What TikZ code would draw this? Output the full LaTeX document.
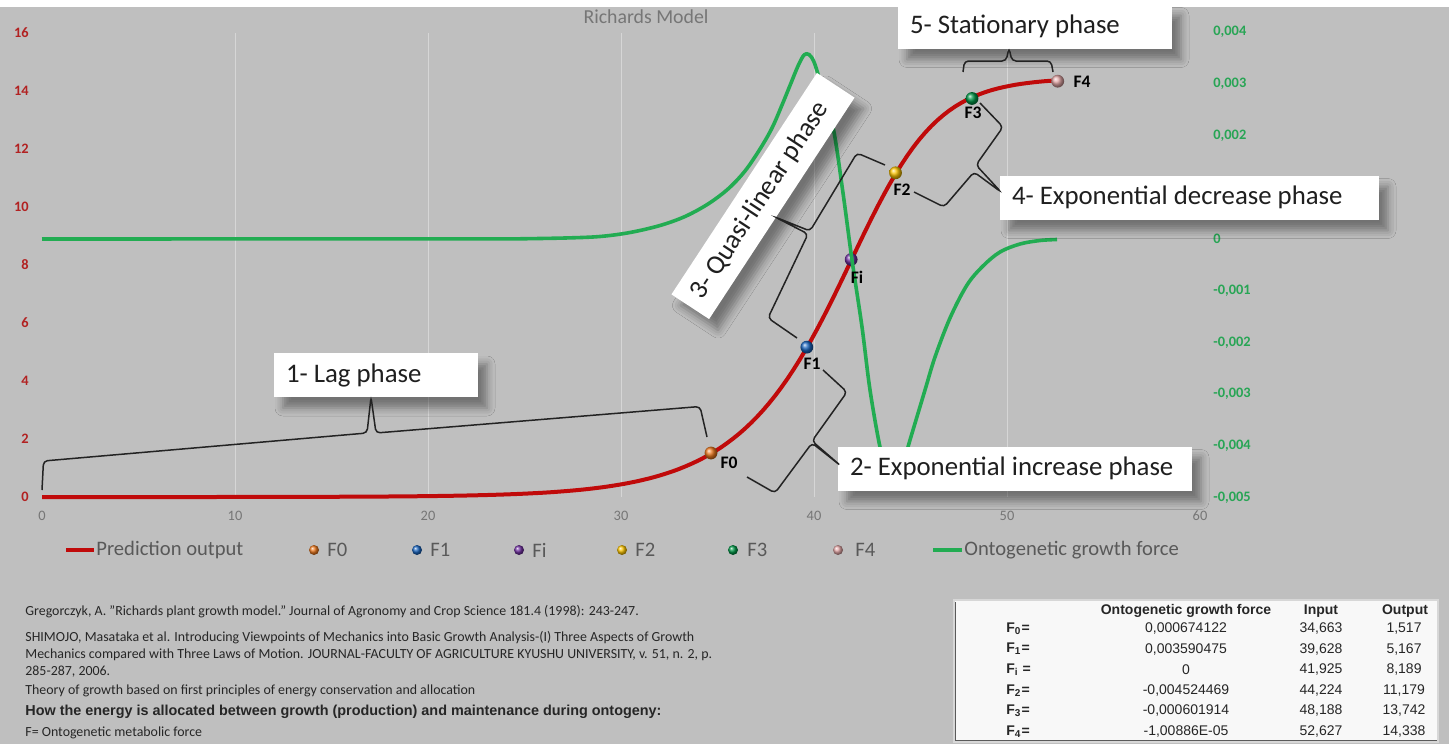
\documentclass[tikz,border=0pt]{standalone}
\usepackage{fontspec}
\setmainfont{Carlito}
\newfontfamily\tablefont{Liberation Sans}
\usetikzlibrary{shadows.blur}

\definecolor{plotbg}{RGB}{191,191,191}
\definecolor{gridc}{RGB}{214,214,214}
\definecolor{predred}{RGB}{192,10,10}
\definecolor{forcegreen}{RGB}{34,172,82}
\definecolor{axisred}{RGB}{178,34,34}
\definecolor{axisgreen}{RGB}{40,165,85}
\definecolor{axisgray}{RGB}{118,118,118}
\definecolor{legendtext}{RGB}{89,89,89}
\definecolor{cFzero}{RGB}{235,120,30}
\definecolor{cFone}{RGB}{25,100,190}
\definecolor{cFinf}{RGB}{112,48,160}
\definecolor{cFtwo}{RGB}{250,195,0}
\definecolor{cFthree}{RGB}{0,150,70}
\definecolor{cFfour}{RGB}{225,165,165}
\definecolor{bracec}{RGB}{35,35,35}
\definecolor{tablebg}{RGB}{248,248,248}
\definecolor{tableedge}{RGB}{215,215,215}
\definecolor{tabledark}{RGB}{90,90,90}

\newcommand{\fsz}[1]{\fontsize{#1}{#1}\selectfont}
% fixed-width, left-aligned label line for the phase boxes
\newcommand{\phaseline}[2]{\makebox[#1][l]{#2}}

\begin{document}
\begin{tikzpicture}[x=0.5pt,y=-0.5pt,
  declare function={
    px(\x)=42+19.3*\x;
    py(\x)=497-29*\x;
    rs(\x)=0.479*(\x-41.925);
    ry(\x)=14.45*exp((rs(\x)-ln(exp(rs(\x))+1.8))/1.8);
  },
  phasebox/.style={fill=white, text=black!88, font={\fsz{13.4pt}}, inner xsep=6pt, inner ysep=0pt,
    minimum height=22pt,
    blur shadow={shadow xshift=4.5pt, shadow yshift=-5.5pt, shadow blur radius=4pt, shadow opacity=40}},
  brace/.style={draw=bracec, line width=0.75pt, rounded corners=2pt},
  sphere/.style={circle, inner sep=0pt, minimum size=6.4pt, ball color=#1},
  legsphere/.style={circle, inner sep=0pt, minimum size=5pt, ball color=#1},
  ptlabel/.style={font={\fsz{8.8pt}\bfseries}, text=black, inner sep=0pt},
  leftnum/.style={font={\fsz{7.2pt}\bfseries}, text=axisred, anchor=east, inner sep=0pt},
  rightnum/.style={font={\fsz{7.2pt}\bfseries}, text=axisgreen, anchor=west, inner sep=0pt},
  xnum/.style={font={\fsz{7.2pt}}, text=axisgray, inner sep=0pt},
  legtext/.style={font={\fsz{10.3pt}}, text=legendtext, anchor=west, inner sep=0pt},
  reftext/.style={font={\fsz{6.95pt}}, text=black!85, anchor=west, inner sep=0pt},
  tabhead/.style={font={\tablefont\fsz{7pt}\bfseries}, text=black!85, inner sep=0pt},
  tabcell/.style={font={\tablefont\fsz{7pt}}, text=black!85, inner sep=0pt},
  tablabel/.style={font={\tablefont\fsz{7pt}\bfseries}, text=black!85, anchor=west, inner sep=0pt},
]
% canvas
\fill[plotbg] (0,0) rectangle (1449,744);
\fill[white] (0,0) rectangle (1449,7);
\useasboundingbox (0,0) rectangle (1449,744);

% vertical gridlines
\foreach \g in {10,20,30,40,50}
  \draw[gridc, line width=0.5pt] ({px(\g)},33) -- ({px(\g)},497);

% chart title
\node[font={\fsz{9.9pt}}, text=axisgray] (title) at (646,17) {Richards Model};

% primary axis (output)
\foreach \v in {0,2,...,16}
  \node[leftnum] (yl\v) at (29,{py(\v)}) {\v};
% secondary axis (force)
\foreach \val/\txt in {4/{0,004},3/{0,003},2/{0,002},0/{0},-1/{-0,001},-2/{-0,002},-3/{-0,003},-4/{-0,004},-5/{-0,005}}
  \node[rightnum] (yr\val) at (1213,{239-51.7*\val}) {\txt};
% x axis (input)
\foreach \g in {0,10,...,60}
  \node[xnum] (xl\g) at ({px(\g)},516) {\g};

% prediction output (Richards curve)
\draw[predred, line width=2pt, line join=round]
  plot[domain=0:52.627, samples=170] ({px(\x)},{py(ry(\x))});

% characteristic points
\node[sphere=cFzero]  (F0) at ({px(34.663)},{py(1.517)}) {};
\node[sphere=cFone]   (F1) at ({px(39.628)},{py(5.167)}) {};
\node[sphere=cFinf]   (Fi) at ({px(41.925)},{py(8.189)}) {};
\node[sphere=cFtwo]   (F2) at ({px(44.224)},{py(11.179)}) {};
\node[sphere=cFthree] (F3) at ({px(48.188)},{py(13.742)}) {};
\node[sphere=cFfour]  (F4) at ({px(52.627)},{py(14.338)}) {};

% ontogenetic growth force
\draw[forcegreen, line width=1.8pt, line join=round]
  (42,239) -- plot[smooth, tension=0.55] coordinates {
   (520,238.8) (565,238) (600,236.5) (630,232.5) (660,225.5) (685,216.5)
   (708,204) (728,189) (745,171) (760,149) (772,128) (782,105) (791,83)
   (798,66) (804,55) (809,54.5) (814,62) (820,81) (833,127) (843,193)
   (852,260) (862,327) (870,390) (880,447) (887,468) (895,474) (902,467)
   (910,440) (925,390) (935,357) (950,318) (967,285) (983,266) (1000,252)
   (1020,244) (1040,240.5) (1057,239.5)};

% point labels
\node[ptlabel] (lF0) at (729,463) {F0};
\node[ptlabel] (lF1) at (812,364) {F1};
\node[ptlabel] (lFi) at (857,277) {Fi};
\node[ptlabel] (lF2) at (902,190) {F2};
\node[ptlabel] (lF3) at (973,113) {F3};
\node[ptlabel] (lF4) at (1082,82) {F4};

% phase labels
\node[phasebox] (lag) at (376,375) {\phaseline{90pt}{1- Lag phase}};
\node[phasebox] (expinc) at (1015,468.5) {\phaseline{165pt}{2- Exponential increase phase}};
\node[phasebox, minimum height=22.5pt, rotate=56.7] (quasi) at (763,196) {\phaseline{120.5pt}{3- Quasi-linear phase}};
\node[phasebox] (expdec) at (1189.5,197.5) {\phaseline{177.5pt}{4- Exponential decrease phase}};
\node[phasebox] (stat) at (1035,26.5) {\phaseline{125pt}{5- Stationary phase}};

% braces
\draw[brace] (42,490) -- (43.5,461) -- (367,433) -- (371,397) -- (376,433) -- (700,406.5) -- (707,437);
\draw[brace] (747,477) -- (775,493) -- (812,443) -- (841,466) -- (812,441) -- (847,392) -- (823,370);
\draw[brace] (797,338) -- (768,318) -- (808,234) -- (775,217) -- (810,231) -- (857,153) -- (885,165);
\draw[brace] (914,192) -- (944,207) -- (974,172) -- (1001,192) -- (976,165) -- (1003,127) -- (980,103);
\draw[brace] (963,72) -- (964.5,61) -- (1006,61) -- (1009,48) -- (1012,61) -- (1051,61) -- (1053,72);

% legend
\coordinate (lrA) at (66,550); \coordinate (lrB) at (94,550);
\draw[predred, line width=2pt] (lrA) -- (lrB);
\node[legtext] (legPred) at (96,550) {Prediction output};
\node[legsphere=cFzero]  (mF0) at (314,550) {};
\node[legtext] (tF0) at (327,550) {F0};
\node[legsphere=cFone]   (mF1) at (417,550) {};
\node[legtext] (tF1) at (430,550) {F1};
\node[legsphere=cFinf]   (mFi) at (519,550) {};
\node[legtext] (tFi) at (532,550) {Fi};
\node[legsphere=cFtwo]   (mF2) at (622,550) {};
\node[legtext] (tF2) at (635,550) {F2};
\node[legsphere=cFthree] (mF3) at (733,550) {};
\node[legtext] (tF3) at (747,550) {F3};
\node[legsphere=cFfour]  (mF4) at (838,550) {};
\node[legtext] (tF4) at (855,550) {F4};
\coordinate (lgA) at (933,550); \coordinate (lgB) at (962,550);
\draw[forcegreen, line width=2pt] (lgA) -- (lgB);
\node[legtext] (legForce) at (964,550) {Ontogenetic growth force};

% references
\node[reftext] (ref1) at (25,612) {Gregorczyk, A. "Richards plant growth model." Journal of Agronomy and Crop Science 181.4 (1998): 243-247.};
\node[reftext] (ref2) at (25,638) {SHIMOJO, Masataka et al. Introducing Viewpoints of Mechanics into Basic Growth Analysis-(I) Three Aspects of Growth};
\node[reftext] (ref3) at (25,655) {Mechanics compared with Three Laws of Motion. JOURNAL-FACULTY OF AGRICULTURE KYUSHU UNIVERSITY, v. 51, n. 2, p.};
\node[reftext] (ref4) at (25,672) {285-287, 2006.};
\node[reftext] (ref5) at (25,691) {Theory of growth based on first principles of energy conservation and allocation};
\node[reftext, font={\tablefont\fsz{7.2pt}\bfseries}] (ref6) at (25,712) {How the energy is allocated between growth (production) and maintenance during ontogeny:};
\node[reftext] (ref7) at (25,733) {F= Ontogenetic metabolic force};

% table of characteristic points
\draw[fill=tablebg, draw=tableedge, line width=1.2pt] (954,600) rectangle (1438,742);
\draw[tabledark, line width=0.8pt] (955.5,602) -- (955.5,740.5) -- (1437,740.5);
\node[tabhead] (thF) at (1186,611) {Ontogenetic growth force};
\node[tabhead] (thI) at (1321,611) {Input};
\node[tabhead] (thO) at (1405,611) {Output};

\node[tablabel] (r1l) at (1006,628.5) {F\textsubscript{0}=};
\node[tabcell] (r1f) at (1186,628.5) {0,000674122};
\node[tabcell] (r1i) at (1321,628.5) {34,663};
\node[tabcell] (r1o) at (1404,628.5) {1,517};

\node[tablabel] (r2l) at (1006,649.1) {F\textsubscript{1}=};
\node[tabcell] (r2f) at (1186,649.1) {0,003590475};
\node[tabcell] (r2i) at (1321,649.1) {39,628};
\node[tabcell] (r2o) at (1404,649.1) {5,167};

\node[tablabel] (r3l) at (1006,669.7) {F\textsubscript{i} =};
\node[tabcell] (r3f) at (1186,669.7) {0};
\node[tabcell] (r3i) at (1321,669.7) {41,925};
\node[tabcell] (r3o) at (1404,669.7) {8,189};

\node[tablabel] (r4l) at (1006,690.3) {F\textsubscript{2}=};
\node[tabcell] (r4f) at (1186,690.3) {-0,004524469};
\node[tabcell] (r4i) at (1321,690.3) {44,224};
\node[tabcell] (r4o) at (1404,690.3) {11,179};

\node[tablabel] (r5l) at (1006,710.9) {F\textsubscript{3}=};
\node[tabcell] (r5f) at (1186,710.9) {-0,000601914};
\node[tabcell] (r5i) at (1321,710.9) {48,188};
\node[tabcell] (r5o) at (1404,710.9) {13,742};

\node[tablabel] (r6l) at (1006,731.5) {F\textsubscript{4}=};
\node[tabcell] (r6f) at (1186,731.5) {-1,00886E-05};
\node[tabcell] (r6i) at (1321,731.5) {52,627};
\node[tabcell] (r6o) at (1404,731.5) {14,338};
\end{tikzpicture}
\end{document}
